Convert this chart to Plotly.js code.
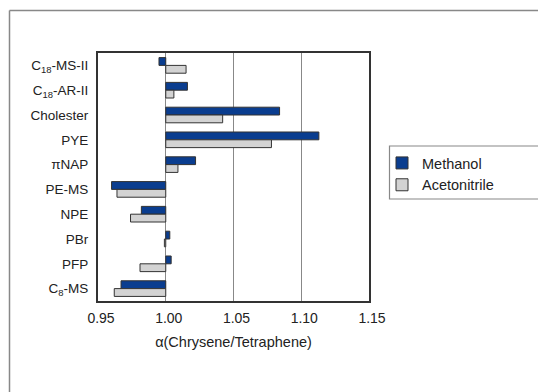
<!DOCTYPE html>
<html>
<head>
<meta charset="utf-8">
<script src="https://cdn.plot.ly/plotly-3.0.1.min.js"></script>
<style>html,body{margin:0;padding:0;background:#fff;}#chart{width:538px;height:392px;}</style>
</head>
<body>
<div id="chart"></div>
<script>
var categories = ['C<sub>18</sub>-MS-II', 'C<sub>18</sub>-AR-II', 'Cholester', 'PYE', 'πNAP', 'PE-MS', 'NPE', 'PBr', 'PFP', 'C<sub>8</sub>-MS'];
var methanol = [0.995, 1.016, 1.084, 1.113, 1.022, 0.960, 0.982, 1.003, 1.004, 0.967];
var acetonitrile = [1.015, 1.006, 1.042, 1.078, 1.009, 0.964, 0.974, 0.999, 0.981, 0.962];
var seriesNames = ['Methanol', 'Acetonitrile'];
var xTicks = [0.95, 1.00, 1.05, 1.10, 1.15];
var xTickText = ['0.95', '1.00', '1.05', '1.10', '1.15'];
var baseline = 1.0;

var txt = '#222';
var font = 'Liberation Sans, Arial, sans-serif';

function mk(name, vals, color) {
  return {
    type: 'bar', orientation: 'h', name: name,
    y: categories, x: vals.map(function (v) { return v - baseline; }), base: baseline,
    marker: {color: color, line: {color: '#333', width: 1}}
  };
}
var data = [
  mk(seriesNames[0], methanol, '#0a3d8f'),
  mk(seriesNames[1], acetonitrile, '#d3d3d3')
];

var W = 538, H = 392, L = 98, R = 169, T = 53, B = 91;
var pw = W - L - R, ph = H - T - B;
function px(x) { return (x - L) / pw; }
function py(y) { return (H - B - y) / ph; }

var layout = {
  width: W, height: H,
  margin: {l: L, r: R, t: T, b: B, pad: 0},
  paper_bgcolor: '#fff', plot_bgcolor: '#fff',
  font: {family: font, size: 14, color: txt},
  barmode: 'group', bargap: 0.37, bargroupgap: 0,
  showlegend: true,
  legend: {
    x: px(382), y: py(147), xanchor: 'left', yanchor: 'top',
    borderwidth: 0, bgcolor: 'rgba(0,0,0,0)',
    font: {family: font, size: 14.5, color: txt},
    traceorder: 'normal', tracegroupgap: 0, itemwidth: 30
  },
  xaxis: {
    range: [0.95, 1.15], tickmode: 'array', tickvals: xTicks, ticktext: xTickText,
    showgrid: true, gridcolor: '#888', gridwidth: 1, zeroline: false,
    showline: true, mirror: true, linecolor: '#333', linewidth: 2,
    ticks: '', tickfont: {family: font, size: 14, color: txt},
    ticklabelshift: 3, ticklabelstandoff: 3,
    title: {text: 'α(Chrysene/Tetraphene)', font: {family: font, size: 14.5, color: txt}, standoff: 12},
    fixedrange: true
  },
  yaxis: {
    type: 'category', autorange: 'reversed',
    showgrid: false, zeroline: false,
    showline: true, mirror: true, linecolor: '#333', linewidth: 2,
    ticks: '', tickfont: {family: font, size: 13.5, color: txt},
    ticklabelstandoff: 5, fixedrange: true
  },
  yaxis2: {
    overlaying: 'y', anchor: 'free', position: 0.25, side: 'right',
    range: [9.5, -0.5], showgrid: false, zeroline: false,
    showline: true, linecolor: '#333', linewidth: 1.5,
    ticks: 'outside', ticklen: 5, tickwidth: 1.5, tickcolor: '#333',
    tickmode: 'array', tickvals: [0.5, 1.5, 2.5, 3.5, 4.5, 5.5, 6.5, 7.5, 8.5],
    showticklabels: false, fixedrange: true
  },
  shapes: [
    {type: 'line', xref: 'paper', yref: 'paper', x0: px(9.5), x1: px(540), y0: py(10.5), y1: py(10.5), line: {color: '#888', width: 1.5}},
    {type: 'line', xref: 'paper', yref: 'paper', x0: px(9.5), x1: px(9.5), y0: py(10.5), y1: py(395), line: {color: '#888', width: 1.5}},
    {type: 'rect', xref: 'paper', yref: 'paper', x0: px(389.5), x1: px(545), y0: py(146), y1: py(199), line: {color: '#888', width: 1.2}, fillcolor: 'rgba(0,0,0,0)'}
  ]
};

Plotly.newPlot('chart', data, layout, {displayModeBar: false, staticPlot: true});
</script>
</body>
</html>
